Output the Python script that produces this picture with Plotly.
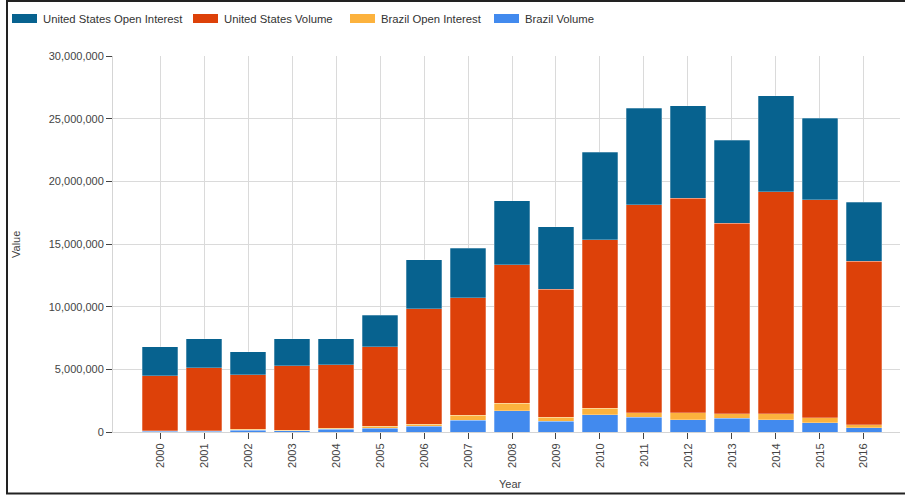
import plotly.graph_objects as go

years = [str(y) for y in range(2000, 2017)]

brazil_volume = [80000, 80000, 150000, 100000, 200000, 300000, 470000, 950000, 1680000,
                 850000, 1380000, 1170000, 990000, 1090000, 990000, 750000, 350000]
brazil_open_interest = [40000, 40000, 70000, 50000, 100000, 170000, 160000, 390000, 610000,
                        320000, 510000, 380000, 560000, 370000, 470000, 400000, 240000]
us_volume = [4350000, 5020000, 4330000, 5150000, 5080000, 6350000, 9220000, 9360000, 11050000,
             10230000, 13450000, 16590000, 17090000, 15210000, 17710000, 17380000, 13050000]
us_open_interest = [2350000, 2310000, 1870000, 2150000, 2070000, 2500000, 3890000, 3980000, 5110000,
                    4980000, 6970000, 7690000, 7380000, 6600000, 7650000, 6500000, 4710000]

series_names = ["United States Open Interest", "United States Volume",
                "Brazil Open Interest", "Brazil Volume"]
colors = {"United States Open Interest": "#07628F",
          "United States Volume": "#DD4109",
          "Brazil Open Interest": "#FCB23D",
          "Brazil Volume": "#428AEE"}

W, H = 905, 495
L, R, T, B = 113, 900, 56, 432


def px(x):
    return (x - L) / (R - L)


def py(y):
    return (B - y) / (B - T)


fig = go.Figure()
stack = [("Brazil Volume", brazil_volume),
         ("Brazil Open Interest", brazil_open_interest),
         ("United States Volume", us_volume),
         ("United States Open Interest", us_open_interest)]
for name, vals in stack:
    fig.add_trace(go.Bar(
        x=years, y=vals, name=name,
        marker=dict(color=colors[name], line=dict(width=0.6, color="rgba(255,255,255,0.45)")),
        showlegend=False,
    ))

font = dict(family="Arial, Liberation Sans, sans-serif", size=11, color="#444")

shapes = []
annotations = []
# manual legend
leg_x = [12, 193, 350, 494]
for name, x0 in zip(series_names, leg_x):
    shapes.append(dict(type="rect", xref="paper", yref="paper",
                       x0=px(x0), x1=px(x0 + 25), y0=py(23), y1=py(14),
                       fillcolor=colors[name], line=dict(width=0)))
    annotations.append(dict(text=name, xref="paper", yref="paper",
                            x=px(x0 + 29), y=py(18.5), xanchor="left", yanchor="middle",
                            showarrow=False, font=dict(family=font["family"], size=11.3, color="#333")))

# frame around the chart
shapes.append(dict(type="rect", xref="paper", yref="paper",
                   x0=px(7), x1=px(908), y0=py(493.5), y1=py(1),
                   line=dict(color="#222", width=2), fillcolor="rgba(0,0,0,0)", layer="above"))

annotations.append(dict(text="Value", xref="paper", yref="paper", x=px(16), y=py(245),
                        textangle=-90, showarrow=False, xanchor="center", yanchor="middle",
                        font=dict(family=font["family"], size=11, color="#444")))
annotations.append(dict(text="Year", xref="paper", yref="paper", x=px(511), y=py(484),
                        showarrow=False, xanchor="center", yanchor="middle",
                        font=dict(family=font["family"], size=11, color="#444")))

fig.update_layout(
    width=W, height=H,
    margin=dict(l=L, r=W - R, t=T, b=H - B, pad=0),
    barmode="stack", bargap=0.2,
    paper_bgcolor="white", plot_bgcolor="white",
    font=font,
    shapes=shapes, annotations=annotations,
    xaxis=dict(type="category", range=[-1.07, 16.82], tickangle=-90,
               showgrid=True, gridcolor="#DADADA", gridwidth=1,
               showline=True, linecolor="#D5D5D5", linewidth=1,
               ticks="outside", ticklen=6, tickcolor="#444", tickwidth=1,
               tickfont=font, zeroline=False),
    yaxis=dict(range=[0, 30000000], tickvals=[0, 5000000, 10000000, 15000000, 20000000, 25000000, 30000000],
               tickformat=",d", showgrid=True, gridcolor="#DADADA", gridwidth=1,
               showline=True, linecolor="#D5D5D5", linewidth=1,
               ticks="outside", ticklen=6, tickcolor="#444", tickwidth=1,
               tickfont=font, zeroline=False),
)

fig.write_html("out.html", config={"displayModeBar": False},
               post_script="document.body.style.margin='0';document.body.style.padding='0';")
